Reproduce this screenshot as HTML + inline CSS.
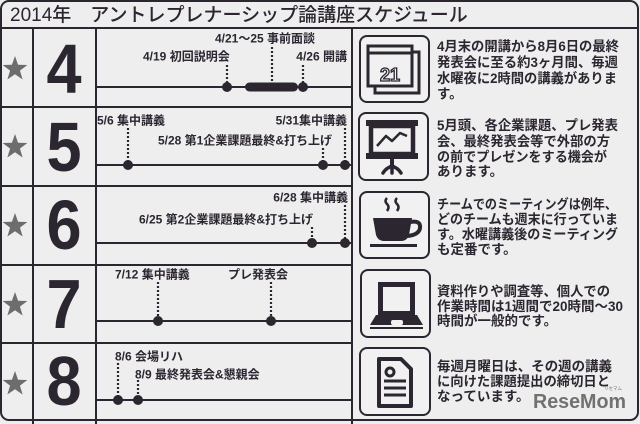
<!DOCTYPE html>
<html><head><meta charset="utf-8">
<style>
html,body{margin:0;padding:0;background:#efeeef;}
svg{display:block;}
text{font-family:"Liberation Sans","Noto Sans CJK JP",sans-serif;}
</style></head>
<body>
<svg width="640" height="424" viewBox="0 0 640 424" xmlns="http://www.w3.org/2000/svg">
<rect x="0" y="0" width="640" height="424" fill="#efeeef"/>
<g stroke="#2b2630" fill="none">
  <!-- outer border -->
  <rect x="1" y="1" width="637" height="419" rx="8" stroke-width="2"/>
  <!-- title line -->
  <line x1="0" y1="28" x2="639" y2="28" stroke-width="2"/>
  <!-- vertical columns -->
  <line x1="33" y1="28" x2="33" y2="424" stroke-width="2"/>
  <line x1="96" y1="28" x2="96" y2="424" stroke-width="2"/>
  <line x1="352" y1="28" x2="352" y2="424" stroke-width="2"/>
  <!-- row dividers -->
  <line x1="0" y1="107" x2="352" y2="107" stroke-width="2"/>
  <line x1="0" y1="186" x2="352" y2="186" stroke-width="2"/>
  <line x1="0" y1="265" x2="352" y2="265" stroke-width="2"/>
  <line x1="0" y1="343" x2="352" y2="343" stroke-width="2"/>
  <!-- timelines -->
  <line x1="96" y1="87" x2="352" y2="87" stroke-width="2"/>
  <line x1="96" y1="165" x2="352" y2="165" stroke-width="2"/>
  <line x1="96" y1="243" x2="352" y2="243" stroke-width="2"/>
  <line x1="96" y1="321" x2="352" y2="321" stroke-width="2"/>
  <line x1="96" y1="400" x2="352" y2="400" stroke-width="2"/>
  <!-- dotted connectors -->
  <g stroke-width="2.2" stroke-dasharray="2,2">
    <line x1="227" y1="65" x2="227" y2="87"/>
    <line x1="272" y1="47" x2="272" y2="87"/>
    <line x1="303" y1="65" x2="303" y2="87"/>
    <line x1="128" y1="128" x2="128" y2="165"/>
    <line x1="345" y1="128" x2="345" y2="165"/>
    <line x1="323" y1="148" x2="323" y2="165"/>
    <line x1="345" y1="205" x2="345" y2="243"/>
    <line x1="312" y1="227" x2="312" y2="243"/>
    <line x1="158" y1="282" x2="158" y2="321"/>
    <line x1="271" y1="282" x2="271" y2="321"/>
    <line x1="118" y1="363" x2="118" y2="400"/>
    <line x1="138" y1="380" x2="138" y2="400"/>
  </g>
</g>
<!-- dots -->
<g fill="#2b2630">
  <circle cx="227" cy="87" r="5"/>
  <rect x="245" y="82.5" width="53" height="9" rx="4.5"/>
  <circle cx="303" cy="87" r="5"/>
  <circle cx="128" cy="165" r="5"/>
  <circle cx="323" cy="165" r="5"/>
  <circle cx="345" cy="165" r="5"/>
  <circle cx="312" cy="243" r="5"/>
  <circle cx="345" cy="243" r="5"/>
  <circle cx="158" cy="321" r="5"/>
  <circle cx="271" cy="321" r="5"/>
  <circle cx="118" cy="400" r="5"/>
  <circle cx="138" cy="400" r="5"/>
</g>
<!-- stars -->
<g fill="#6d6d6d">
  <polygon transform="translate(15,69)" points="0,-13 3.06,-4.21 12.36,-4.02 4.94,1.61 7.64,10.52 0,5.2 -7.64,10.52 -4.94,1.61 -12.36,-4.02 -3.06,-4.21"/>
  <polygon transform="translate(15,147)" points="0,-13 3.06,-4.21 12.36,-4.02 4.94,1.61 7.64,10.52 0,5.2 -7.64,10.52 -4.94,1.61 -12.36,-4.02 -3.06,-4.21"/>
  <polygon transform="translate(15,226)" points="0,-13 3.06,-4.21 12.36,-4.02 4.94,1.61 7.64,10.52 0,5.2 -7.64,10.52 -4.94,1.61 -12.36,-4.02 -3.06,-4.21"/>
  <polygon transform="translate(15,305)" points="0,-13 3.06,-4.21 12.36,-4.02 4.94,1.61 7.64,10.52 0,5.2 -7.64,10.52 -4.94,1.61 -12.36,-4.02 -3.06,-4.21"/>
  <polygon transform="translate(15,384)" points="0,-13 3.06,-4.21 12.36,-4.02 4.94,1.61 7.64,10.52 0,5.2 -7.64,10.52 -4.94,1.61 -12.36,-4.02 -3.06,-4.21"/>
</g>
<!-- title -->
<text x="10" y="21" font-size="19" font-weight="500" fill="#2b2630" xml:space="preserve">2014年　アントレプレナーシップ論講座スケジュール</text>
<!-- month digits -->
<g fill="#2b2630" font-size="70" font-weight="bold" text-anchor="middle">
  <text transform="translate(64,93) scale(0.9,1)">4</text>
  <text transform="translate(64,171) scale(0.9,1)">5</text>
  <text transform="translate(64,249) scale(0.9,1)">6</text>
  <text transform="translate(64,328) scale(0.9,1)">7</text>
  <text transform="translate(64,405) scale(0.9,1)">8</text>
</g>
<!-- timeline labels -->
<g fill="#2b2630" font-size="12" font-weight="bold">
  <text x="215" y="42.5">4/21〜25 事前面談</text>
  <text x="143" y="60.5">4/19 初回説明会</text>
  <text x="347" y="60.5" text-anchor="end">4/26 開講</text>
  <text x="97" y="124.5">5/6 集中講義</text>
  <text x="347" y="124.5" text-anchor="end">5/31集中講義</text>
  <text x="332" y="144.5" text-anchor="end">5/28 第1企業課題最終&amp;打ち上げ</text>
  <text x="348" y="201.5" text-anchor="end">6/28 集中講義</text>
  <text x="313" y="223.5" text-anchor="end">6/25 第2企業課題最終&amp;打ち上げ</text>
  <text x="115" y="278.5">7/12 集中講義</text>
  <text x="228" y="278.5">プレ発表会</text>
  <text x="115" y="360.5">8/6 会場リハ</text>
  <text x="135" y="378.5">8/9 最終発表会&amp;懇親会</text>
</g>
<!-- icon boxes -->
<g stroke="#2b2630" stroke-width="2" fill="#f1f1f1">
  <rect x="360" y="36" width="69" height="66" rx="7"/>
  <rect x="359" y="113" width="69" height="67" rx="7"/>
  <rect x="360" y="192" width="69" height="66" rx="7"/>
  <rect x="361" y="270" width="69" height="67" rx="7"/>
  <rect x="360" y="348" width="70" height="67" rx="7"/>
</g>
<!-- calendar icon -->
<g stroke="#2b2630" fill="none" stroke-width="3">
  <polyline points="412,52 419,52 419,93 375,93 375,86"/>
  <rect x="368" y="46" width="44" height="40"/>
  <line x1="368" y1="53" x2="412" y2="53"/>
</g>
<text x="390" y="81" font-size="18" font-weight="bold" text-anchor="middle" fill="#f4f4f4" stroke="#2b2630" stroke-width="1.3">21</text>
<!-- presentation icon -->
<g fill="#2b2630">
  <rect x="366" y="120" width="52" height="6"/>
  <rect x="366" y="153" width="52" height="6"/>
  <rect x="390" y="158" width="4" height="8"/>
</g>
<g stroke="#2b2630" fill="none">
  <rect x="371" y="126" width="42" height="28" stroke-width="4.5"/>
  <polyline points="377,146 386,136 392,141 400,133 407,136" stroke-width="2.5" stroke-linejoin="round"/>
  <path d="M392,164 L392,173 M392,166 Q386,168 383,173 M392,166 Q398,168 401,173" stroke-width="3.5" stroke-linecap="round"/>
</g>
<!-- coffee icon -->
<g stroke="#2b2630" fill="none" stroke-width="2.5">
  <path d="M387,198 q-3,3 0,6 q3,3 0,7"/>
  <path d="M397,198 q-3,3 0,6 q3,3 0,7"/>
  <path d="M410,222 Q421,220 420,228 Q419,235 407,236" stroke-width="4"/>
</g>
<g fill="#2b2630">
  <path d="M373,218 L412,218 L409,235 Q407,241 401,241 L384,241 Q378,241 376,235 Z"/>
  <rect x="370" y="244" width="47" height="3"/>
</g>
<!-- laptop icon -->
<rect x="380.5" y="284.5" width="32" height="29" fill="none" stroke="#2b2630" stroke-width="5"/>
<path d="M376,315 L417,315 L423,325 L370,325 Z" fill="#2b2630"/>
<rect x="391" y="320" width="12" height="5" rx="2" fill="#f1f1f1"/>
<rect x="370" y="327" width="53" height="2" fill="#2b2630"/>
<!-- document icon -->
<g stroke="#2b2630" fill="none">
  <path d="M379,359 L401,359 L411,369 L411,406 L379,406 Z" stroke-width="4" stroke-linejoin="round"/>
  <circle cx="390" cy="372" r="4" stroke-width="3"/>
  <line x1="384" y1="381" x2="406" y2="381" stroke-width="3"/>
  <line x1="384" y1="388" x2="406" y2="388" stroke-width="3"/>
  <line x1="384" y1="395" x2="406" y2="395" stroke-width="3"/>
</g>
<!-- descriptions -->
<g fill="#2b2630" font-size="13.5" font-weight="bold">
  <text x="437" y="51" textLength="182" lengthAdjust="spacingAndGlyphs">4月末の開講から8月6日の最終</text>
  <text x="437" y="67" textLength="181" lengthAdjust="spacingAndGlyphs">発表会に至る約3ヶ月間、毎週</text>
  <text x="437" y="83" textLength="180" lengthAdjust="spacingAndGlyphs">水曜夜に2時間の講義がありま</text>
  <text x="437" y="98.5">す。</text>

  <text x="437" y="130" textLength="181" lengthAdjust="spacingAndGlyphs">5月頭、各企業課題、プレ発表</text>
  <text x="437" y="146" textLength="173" lengthAdjust="spacingAndGlyphs">会、最終発表会等で外部の方</text>
  <text x="437" y="161.5" textLength="170" lengthAdjust="spacingAndGlyphs">の前でプレゼンをする機会が</text>
  <text x="437" y="176">あります。</text>

  <text x="437" y="209" textLength="180" lengthAdjust="spacingAndGlyphs">チームでのミーティングは例年、</text>
  <text x="437" y="224" textLength="181" lengthAdjust="spacingAndGlyphs">どのチームも週末に行っていま</text>
  <text x="437" y="239" textLength="181" lengthAdjust="spacingAndGlyphs">す。水曜講義後のミーティング</text>
  <text x="437" y="254">も定番です。</text>

  <text x="437" y="296" textLength="173" lengthAdjust="spacingAndGlyphs">資料作りや調査等、個人での</text>
  <text x="437" y="311" textLength="186" lengthAdjust="spacingAndGlyphs">作業時間は1週間で20時間〜30</text>
  <text x="437" y="325.5">時間が一般的です。</text>

  <text x="437" y="371" textLength="175" lengthAdjust="spacingAndGlyphs">毎週月曜日は、その週の講義</text>
  <text x="437" y="386" textLength="173" lengthAdjust="spacingAndGlyphs">に向けた課題提出の締切日と</text>
  <text x="437" y="401">なっています。</text>
</g>
<!-- watermark -->
<text x="533" y="408" font-size="20" font-weight="bold" fill="#717171" textLength="93" lengthAdjust="spacingAndGlyphs">ReseMom</text>
<text x="604" y="390" font-size="4.5" fill="#717171">リセマム</text>
</svg>
</body></html>
